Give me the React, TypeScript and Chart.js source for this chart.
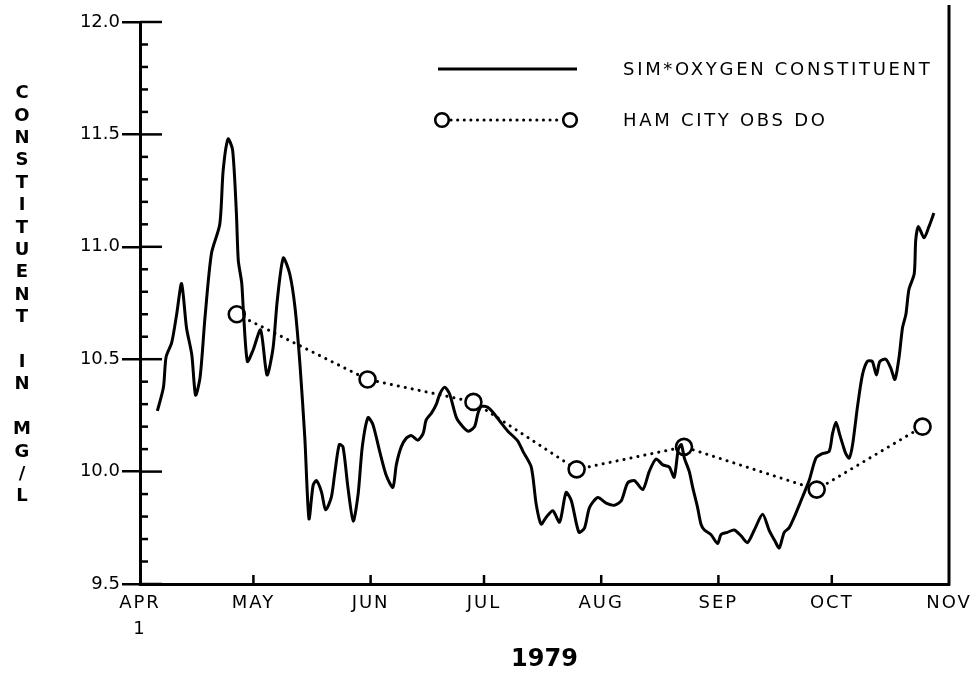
import React, { useEffect, useRef } from 'react';
import { Chart, registerables } from 'chart.js';

Chart.register(...registerables);

// Day number counted from April 1, 1979
const SIM_DAYS = [
  4.6, 6.2, 6.9, 8.4, 9.7, 11.0, 12.3, 13.7, 14.7, 15.9, 17.2, 18.9, 21.1, 22.0, 23.3, 24.5, 25.5, 26.0, 26.9, 27.3,
  28.4, 29.9, 31.9, 33.6, 35.2, 36.3, 37.9, 39.6, 41.0, 42.3, 43.6, 44.7, 45.8, 46.7, 48.0, 49.1, 50.6, 51.5, 52.7, 53.7,
  55.0, 56.4, 57.7, 58.8, 60.3, 61.6, 63.4, 65.2, 66.9, 67.8, 69.1, 70.5, 71.8, 73.5, 74.9, 75.7, 77.1, 78.4, 79.3, 80.6,
  81.9, 83.7, 85.4, 86.9, 88.5, 89.4, 90.3, 92.0, 93.4, 95.1, 97.3, 99.9, 101.3, 103.5, 104.8, 106.1, 107.4, 109.2, 111.0, 112.7,
  114.1, 116.1, 117.6, 118.9, 121.1, 123.3, 125.5, 127.3, 129.0, 130.8, 133.0, 134.7, 136.5, 138.3, 140.0, 141.3, 142.4, 143.2, 144.0, 145.3,
  146.2, 147.5, 148.4, 149.3, 151.0, 152.8, 153.7, 155.4, 157.2, 159.0, 160.7, 162.5, 164.7, 166.4, 168.0, 169.1, 170.4, 171.7, 173.0, 175.2,
  177.0, 178.8, 180.5, 182.3, 183.2, 184.1, 185.0, 185.9, 186.7, 187.6, 188.5, 189.8, 191.1, 192.4, 193.7, 194.8, 195.7, 197.3, 198.6, 199.7,
  200.8, 201.7, 202.6, 203.4, 204.8, 205.2, 205.9, 207.4, 208.7, 210.0,
];
const SIM_VALUES = [
  10.27, 10.375, 10.51, 10.575, 10.70, 10.836, 10.64, 10.52, 10.34, 10.42, 10.687, 10.97, 11.10, 11.34, 11.48, 11.43, 11.15, 10.94, 10.84, 10.73,
  10.49, 10.54, 10.63, 10.43, 10.55, 10.76, 10.95, 10.88, 10.73, 10.48, 10.15, 9.79, 9.94, 9.96, 9.91, 9.83, 9.885, 9.99, 10.12, 10.11,
  9.93, 9.78, 9.90, 10.11, 10.24, 10.21, 10.09, 9.98, 9.93, 10.03, 10.11, 10.15, 10.16, 10.14, 10.17, 10.23, 10.26, 10.30, 10.345, 10.375,
  10.345, 10.24, 10.20, 10.18, 10.20, 10.26, 10.29, 10.286, 10.263, 10.226, 10.18, 10.137, 10.09, 10.02, 9.855, 9.766, 9.796, 9.826, 9.775, 9.907,
  9.87, 9.73, 9.75, 9.84, 9.885, 9.86, 9.85, 9.87, 9.95, 9.96, 9.92, 10.00, 10.056, 10.03, 10.02, 9.975, 10.10, 10.12, 10.06, 10.00,
  9.93, 9.84, 9.766, 9.74, 9.72, 9.68, 9.72, 9.73, 9.74, 9.714, 9.684, 9.74, 9.81, 9.74, 9.69, 9.66, 9.73, 9.75, 9.795, 9.885,
  9.96, 10.06, 10.08, 10.09, 10.17, 10.22, 10.17, 10.12, 10.08, 10.06, 10.12, 10.29, 10.43, 10.49, 10.49, 10.43, 10.49, 10.50, 10.46, 10.41,
  10.51, 10.64, 10.70, 10.81, 10.88, 11.03, 11.09, 11.04, 11.09, 11.15,
];

const OBS_DAYS = [25.6, 60.2, 88.2, 115.5, 143.9, 179.0, 207.0];
const OBS_VALUES = [10.70, 10.41, 10.31, 10.01, 10.11, 9.92, 10.20];

const MONTH_DAYS = [0, 30, 61, 91, 122, 153, 183, 214];
const MONTH_LABELS = ['APR', 'MAY', 'JUN', 'JUL', 'AUG', 'SEP', 'OCT', 'NOV'];
const MONTH_SUBLABELS = ['1', '', '', '', '', '', '', ''];

const Y_MIN = 9.5;
const Y_MAX = 12.0;
const Y_TICKS = [
  9.5, 9.6, 9.7, 9.8, 9.9, 10.0, 10.1, 10.2, 10.3, 10.4, 10.5, 10.6, 10.7,
  10.8, 10.9, 11.0, 11.1, 11.2, 11.3, 11.4, 11.5, 11.6, 11.7, 11.8, 11.9, 12.0,
];

const Y_TITLE = 'CONSTITUENT IN MG/L';
const X_TITLE = '1979';
const SIM_LABEL = 'SIM*OXYGEN CONSTITUENT';
const OBS_LABEL = 'HAM CITY OBS DO';

const FONT = '"DejaVu Sans", sans-serif';

const isMajor = (v: number | undefined) =>
  typeof v === 'number' && Math.abs(v * 2 - Math.round(v * 2)) < 1e-6;

const decorPlugin = {
  id: 'decor',
  beforeDatasetsDraw(chart: any) {
    chart.ctx.letterSpacing = '2px';
  },
  afterDraw(chart: any) {
    const { ctx, chartArea, scales } = chart;
    const xs = scales.x;
    const ys = scales.y;
    ctx.save();
    ctx.letterSpacing = '0px';
    ctx.strokeStyle = '#000';
    ctx.fillStyle = '#000';
    ctx.lineCap = 'butt';

    // inward tick marks on the y axis
    ctx.lineWidth = 2.5;
    Y_TICKS.forEach((v) => {
      const py = ys.getPixelForValue(v);
      ctx.beginPath();
      ctx.moveTo(chartArea.left, py);
      ctx.lineTo(chartArea.left + (isMajor(v) ? 22 : 8), py);
      ctx.stroke();
    });
    // inward tick marks on the x axis
    MONTH_DAYS.slice(1, -1).forEach((d) => {
      const px = xs.getPixelForValue(d);
      ctx.beginPath();
      ctx.moveTo(px, chartArea.bottom);
      ctx.lineTo(px, chartArea.bottom - 9);
      ctx.stroke();
    });

    // right frame line
    ctx.lineWidth = 3;
    ctx.beginPath();
    ctx.moveTo(chartArea.right, 5);
    ctx.lineTo(chartArea.right, chartArea.bottom + 1.5);
    ctx.stroke();

    // stacked upright y-axis title
    ctx.font = `bold 18px ${FONT}`;
    ctx.textAlign = 'center';
    ctx.textBaseline = 'middle';
    Array.from(Y_TITLE).forEach((ch, i) => {
      ctx.fillText(ch, 22, 93.5 + i * 22.4);
    });

    // legend
    ctx.lineWidth = 3;
    ctx.beginPath();
    ctx.moveTo(438, 69);
    ctx.lineTo(577, 69);
    ctx.stroke();

    ctx.setLineDash([0.1, 6.5]);
    ctx.lineCap = 'round';
    ctx.lineWidth = 3;
    ctx.beginPath();
    ctx.moveTo(451, 120);
    ctx.lineTo(562, 120);
    ctx.stroke();
    ctx.setLineDash([]);
    ctx.lineCap = 'butt';
    ctx.lineWidth = 2.6;
    [442, 570].forEach((cx) => {
      ctx.beginPath();
      ctx.arc(cx, 120, 6.8, 0, Math.PI * 2);
      ctx.fillStyle = '#fff';
      ctx.fill();
      ctx.stroke();
    });

    ctx.fillStyle = '#000';
    ctx.font = `18px ${FONT}`;
    ctx.textAlign = 'left';
    ctx.letterSpacing = '2.7px';
    ctx.fillText(SIM_LABEL, 623, 70);
    ctx.fillText(OBS_LABEL, 623, 121);
    ctx.restore();
    ctx.letterSpacing = '0px';
  },
};

export default function App() {
  const canvasRef = useRef<HTMLCanvasElement | null>(null);

  useEffect(() => {
    const canvas = canvasRef.current;
    if (!canvas) return;
    const simData = SIM_DAYS.map((d, i) => ({ x: d, y: SIM_VALUES[i] }));
    const obsData = OBS_DAYS.map((d, i) => ({ x: d, y: OBS_VALUES[i] }));

    const chart = new Chart(canvas, {
      type: 'line',
      data: {
        datasets: [
          {
            label: SIM_LABEL,
            data: simData,
            borderColor: '#000',
            borderWidth: 3,
            pointRadius: 0,
            tension: 0.25,
            fill: false,
          },
          {
            label: OBS_LABEL,
            data: obsData,
            borderColor: '#000',
            borderWidth: 3,
            borderDash: [0.1, 7],
            borderCapStyle: 'round',
            pointRadius: 8,
            pointBorderWidth: 2.6,
            pointBackgroundColor: '#fff',
            pointBorderColor: '#000',
            tension: 0,
            fill: false,
          },
        ],
      },
      options: {
        animation: false,
        responsive: false,
        layout: { padding: { left: 0, right: 28, top: 22, bottom: 0 } },
        plugins: {
          legend: { display: false },
          tooltip: { enabled: false },
        },
        scales: {
          x: {
            type: 'linear',
            min: MONTH_DAYS[0],
            max: MONTH_DAYS[MONTH_DAYS.length - 1],
            afterFit: (s: any) => {
              s.height = 91;
            },
            afterBuildTicks: (s: any) => {
              s.ticks = MONTH_DAYS.map((v) => ({ value: v }));
            },
            ticks: {
              autoSkip: false,
              maxRotation: 0,
              minRotation: 0,
              padding: 6,
              color: '#000',
              font: { family: FONT, size: 18, lineHeight: 1.45 },
              z: 1,
              callback: (v: any) => {
                const i = MONTH_DAYS.indexOf(Number(v));
                if (i < 0) return '';
                const sub = MONTH_SUBLABELS[i];
                return sub ? [MONTH_LABELS[i], sub] : MONTH_LABELS[i];
              },
            },
            grid: { display: false, drawOnChartArea: false, drawTicks: false },
            border: { display: true, color: '#000', width: 3 },
            title: {
              display: true,
              text: X_TITLE,
              color: '#000',
              font: { family: FONT, size: 24, weight: 'bold' },
              padding: { top: 0, bottom: 1 },
            },
          },
          y: {
            type: 'linear',
            min: Y_MIN,
            max: Y_MAX,
            afterFit: (s: any) => {
              s.width = 140;
            },
            afterBuildTicks: (s: any) => {
              s.ticks = Y_TICKS.map((v) => ({ value: v }));
            },
            ticks: {
              autoSkip: false,
              padding: 2,
              color: '#000',
              font: { family: FONT, size: 18 },
              callback: (v: any) => (isMajor(Number(v)) ? Number(v).toFixed(1) : ''),
            },
            grid: {
              drawOnChartArea: false,
              drawTicks: true,
              tickLength: 18,
              lineWidth: 2.5,
              color: (c: any) => (isMajor(c.tick ? c.tick.value : undefined) ? '#000' : 'rgba(0,0,0,0)'),
            },
            border: { display: true, color: '#000', width: 3 },
          },
        },
      },
      plugins: [decorPlugin],
    } as any);

    return () => {
      chart.destroy();
    };
  }, []);

  return (
    <div style={{ position: 'fixed', left: 0, top: 0, width: 977, height: 675, background: '#fff' }}>
      <canvas ref={canvasRef} width={977} height={675} style={{ display: 'block', width: 977, height: 675 }} />
    </div>
  );
}
